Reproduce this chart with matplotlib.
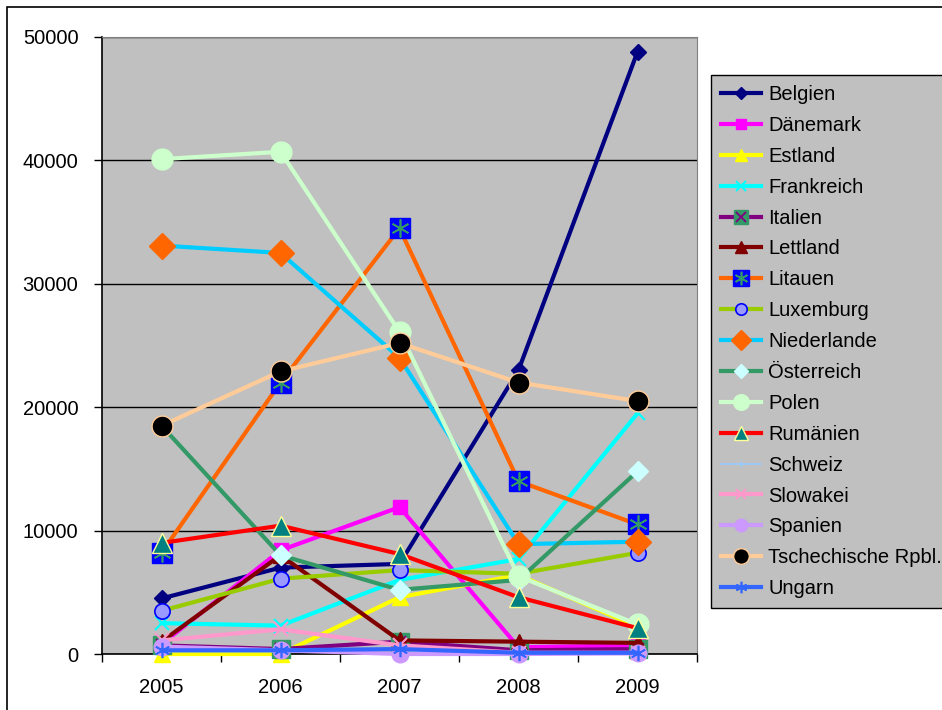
import matplotlib
matplotlib.use("Agg")
import matplotlib.pyplot as plt
from matplotlib.patches import Rectangle

plt.rcParams['font.family'] = ['Liberation Sans', 'DejaVu Sans']

years = ["2005", "2006", "2007", "2008", "2009"]

belgien = [4500, 7000, 7300, 23000, 48800]
daenemark = [800, 8400, 11900, 550, 700]
estland = [0, 0, 4600, 6400, 2200]
frankreich = [2500, 2300, 6000, 7700, 19500]
italien = [700, 400, 1000, 300, 400]
lettland = [1000, 8000, 1100, 1000, 900]
litauen = [8200, 22000, 34500, 14000, 10500]
luxemburg = [3500, 6100, 6800, 6500, 8200]
niederlande = [33100, 32500, 24000, 8900, 9100]
oesterreich = [18500, 8000, 5200, 6000, 14800]
polen = [40100, 40700, 26100, 6300, 2400]
rumaenien = [9000, 10400, 8100, 4600, 2100]
schweiz = [200, 200, 300, 150, 150]
slowakei = [1100, 2000, 700, 100, 100]
spanien = [600, 300, 0, 0, 50]
tschechien = [18500, 22900, 25200, 22000, 20500]
ungarn = [300, 300, 400, 100, 100]

# name, values, line colour, marker spec, optional overlay marker spec
series = [
    ("Belgien", belgien, "#000080",
     dict(marker="D", ms=8, mfc="#000080", mec="#000080"), None),
    ("Dänemark", daenemark, "#FF00FF",
     dict(marker="s", ms=10, mfc="#FF00FF", mec="#FF00FF"), None),
    ("Estland", estland, "#FFFF00",
     dict(marker="^", ms=11, mfc="#FFFF00", mec="#FFFF00"), None),
    ("Frankreich", frankreich, "#00FFFF",
     dict(marker="x", ms=10, mec="#00FFFF", mew=1.5), None),
    ("Italien", italien, "#800080",
     dict(marker="s", ms=13, mfc="#339966", mec="#339966"),
     dict(marker="x", ms=9, mec="#800080", mew=1.3)),
    ("Lettland", lettland, "#800000",
     dict(marker="^", ms=11, mfc="#800000", mec="#800000"), None),
    ("Litauen", litauen, "#FF6600",
     dict(marker="s", ms=15, mfc="#0000FF", mec="#0000FF"),
     dict(marker=(6, 2, 0), ms=13, mec="#339966", mew=1.2)),
    ("Luxemburg", luxemburg, "#99CC00",
     dict(marker="o", ms=11, mfc="#9999FF", mec="#0000FF", mew=1.2), None),
    ("Niederlande", niederlande, "#00CCFF",
     dict(marker="D", ms=13, mfc="#FF6600", mec="#FF6600"), None),
    ("Österreich", oesterreich, "#339966",
     dict(marker="D", ms=10, mfc="#CCFFFF", mec="#CCFFFF"), None),
    ("Polen", polen, "#CCFFCC",
     dict(marker="o", ms=15, mfc="#CCFFCC", mec="#CCFFCC"), None),
    ("Rumänien", rumaenien, "#FF0000",
     dict(marker="^", ms=14, mfc="#008080", mec="#FFFF99", mew=1.0), None),
    ("Schweiz", schweiz, "#99CCFF",
     dict(marker="+", ms=6, mec="#99CCFF", mew=1.0), None),
    ("Slowakei", slowakei, "#FF99CC",
     dict(marker="x", ms=10, mec="#FF99CC", mew=1.5), None),
    ("Spanien", spanien, "#CC99FF",
     dict(marker="o", ms=12, mfc="#CC99FF", mec="#CC99FF"), None),
    ("Tschechische Rpbl.", tschechien, "#FFCC99",
     dict(marker="o", ms=15, mfc="#000000", mec="#FFCC99", mew=1.0), None),
    ("Ungarn", ungarn, "#3366FF",
     dict(marker="None"),
     dict(marker=(6, 2, 0), ms=11, mec="#3366FF", mew=1.2)),
]

fig = plt.figure(figsize=(9.42, 7.10), dpi=100)
fig.patch.set_facecolor("white")
fig.patches.append(Rectangle((7 / 942, -0.05), 1.2, 1 - 7 / 710 + 0.05,
                             transform=fig.transFigure, fill=False,
                             edgecolor="black", linewidth=1.2))

ax = fig.add_axes([102 / 942, 1 - 654 / 710, (697 - 102) / 942, (654 - 37) / 710])
ax.set_facecolor("#C0C0C0")

x = list(range(len(years)))
handles = []
for name, vals, lc, mk, over in series:
    lw = 1.2 if name == "Schweiz" else 3.0
    ln, = ax.plot(x, vals, color=lc, lw=lw, zorder=3, clip_on=False,
                  solid_joinstyle="round", **mk)
    h = ln
    if over is not None:
        ov = ax.plot(x, vals, ls="None", zorder=3, clip_on=False, **over)[0]
        h = (ln, ov)
    handles.append(h)

ax.set_xlim(-0.5, 4.5)
ax.set_ylim(0, 50000)
ax.set_yticks(range(0, 50001, 10000))
ax.set_yticklabels([str(v) for v in range(0, 50001, 10000)])
ax.set_xticks(x)
ax.set_xticklabels(years)
ax.set_xticks([i - 0.5 for i in range(6)], minor=True)
ax.tick_params(axis="x", which="major", length=0, pad=17, labelsize=14.5)
ax.tick_params(axis="x", which="minor", length=6, width=1, direction="out")
ax.tick_params(axis="y", length=6, width=1, direction="out", pad=11, labelsize=14.5)
ax.yaxis.grid(True, color="black", lw=1.0)
ax.set_axisbelow(True)
for s in ("top", "right"):
    ax.spines[s].set_color("#808080")
for s in ("left", "bottom"):
    ax.spines[s].set_color("black")
    ax.spines[s].set_linewidth(1.2)

leg = fig.legend(handles, [s[0] for s in series],
                 loc="upper left", bbox_to_anchor=(711 / 942, 1 - 75 / 710),
                 frameon=True, fancybox=False, framealpha=1,
                 facecolor="#C0C0C0", edgecolor="black", fontsize=14.5,
                 handlelength=2.0, handletextpad=0.35, labelspacing=0.59,
                 borderpad=0.5, borderaxespad=0, markerscale=0.75)
leg.get_frame().set_linewidth(1.0)

fig.savefig("out.png", dpi=100, facecolor="white")
